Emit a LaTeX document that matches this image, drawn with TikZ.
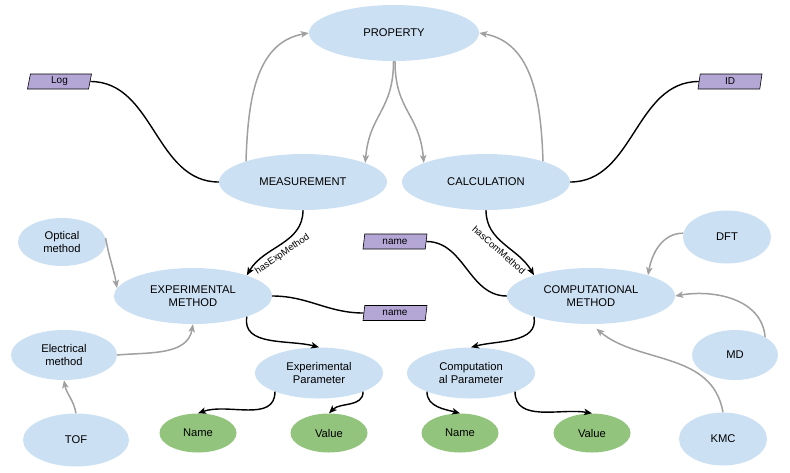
\documentclass[tikz,border=0pt]{standalone}
\usepackage{fontspec}
\setmainfont{Liberation Sans}
\usepackage{xcolor}
\usepackage{tikz}
\usetikzlibrary{positioning, shapes.geometric, arrows.meta}
\definecolor{conceptblue}{RGB}{204,224,243}
\definecolor{valuegreen}{RGB}{147,196,125}
\definecolor{tagpurple}{RGB}{180,167,214}
\definecolor{linkgray}{RGB}{160,160,160}
\tikzset{
  concept/.style={ellipse, fill=conceptblue, inner sep=0pt, align=center, minimum width=168pt, minimum height=56pt},
  method/.style={ellipse, fill=conceptblue, inner sep=0pt, align=center, minimum width=88pt, minimum height=50pt},
  param/.style={ellipse, fill=conceptblue, inner sep=0pt, align=center, minimum width=128pt, minimum height=51pt},
  value/.style={ellipse, fill=valuegreen, inner sep=0pt, align=center, minimum width=77pt, minimum height=39pt},
  tag/.style={trapezium, trapezium left angle=72, trapezium right angle=108, trapezium stretches body, draw=black, line width=0.6pt, fill=tagpurple, inner sep=0pt, minimum width=64pt, minimum height=15pt, font=\fontsize{10}{12}\selectfont},
  arrow/.style={line width=1.4pt, -{Stealth[length=8pt, width=6.5pt, inset=2pt]}},
  link/.style={line width=1.4pt},
  grayarrow/.style={line width=1.5pt, draw=linkgray, -{Stealth[length=8pt, width=6.5pt, inset=2pt]}},
  rel/.style={font=\fontsize{9.5}{11}\selectfont, sloped, below=3pt, inner sep=0.5pt},
}

\begin{document}
\begin{tikzpicture}[x=1pt, y=1pt, font=\fontsize{11.2}{13.5}\selectfont]
        \useasboundingbox (0,0) rectangle (790,-472);

        % Top concepts
        \node[concept, minimum width=170pt] (prop) at (394,-33) {PROPERTY};
        \node[concept] (meas) at (303,-182) {MEASUREMENT};
        \node[concept] (calc) at (486,-182) {CALCULATION};

        % Attribute tags
        \node[tag] (logtag) at (59.5,-81.5) {Log};
        \node[tag] (idtag) at (730,-81.5) {ID};
        \node[tag] (nametagA) at (395,-241.5) {name};
        \node[tag] (nametagB) at (395,-313) {name};

        % Methods
        \node[concept, minimum width=158pt] (expm) at (193,-296) {EXPERIMENTAL\\METHOD};
        \node[concept] (compm) at (591,-296) {COMPUTATIONAL\\METHOD};

        % Method kinds
        \node[method, minimum height=48pt] (optical) at (62,-242) {Optical\\method};
        \node[method, minimum width=106pt] (elec) at (64,-355) {Electrical\\method};
        \node[method, minimum width=106pt, minimum height=53pt] (tof) at (76,-440) {TOF};
        \node[method, minimum height=53pt] (dft) at (727,-237) {DFT};
        \node[method, minimum width=86pt] (md) at (735,-355) {MD};
        \node[method, minimum height=53pt] (kmc) at (723,-439) {KMC};

        % Parameters
        \node[param] (expparam) at (319,-373) {Experimental\\Parameter};
        \node[param] (compparam) at (471,-373) {Computation\\al Parameter};

        % Values
        \node[value] (expname) at (198,-433) {Name};
        \node[value] (expvalue) at (329,-433) {Value};
        \node[value] (compname) at (460,-433) {Name};
        \node[value] (compvalue) at (592,-433) {Value};

        % Property links
        \draw[grayarrow] (meas.160) to[out=88, in=190] (prop.west);
        \draw[grayarrow] (calc.20) to[out=92, in=-10] (prop.east);
        \draw[grayarrow] (prop.-91) to[out=-90, in=85, looseness=1.2] (meas.17);
        \draw[grayarrow] (prop.-88) to[out=-90, in=95, looseness=1.2] (calc.163);

        % Tags
        \draw[link] (logtag.east) to[out=0, in=180] (meas.west);
        \draw[link] (idtag.west) to[out=180, in=0] (calc.east);
        \draw[link] (nametagA.east) to[out=0, in=180] (compm.west);
        \draw[link] (expm.east) to[out=0, in=180] (nametagB.west);

        % Has-method relations
        \draw[arrow] (meas.south) to[out=-90, in=60] node[rel, pos=0.55] {hasExpMethod} (expm.21);
        \draw[arrow] (calc.south) to[out=-90, in=120] node[rel, pos=0.5] {hasComMethod} (compm.160);

        % Parameters
        \draw[arrow] (expm.-21) to[out=-100, in=165] (expparam.north);
        \draw[arrow] (compm.-160) to[out=-80, in=15] (compparam.north);
        \draw[arrow] (expparam.-157) to[out=-90, in=20] (expname.north);
        \draw[arrow] (expparam.-23) to[out=-90, in=45] (expvalue.north);
        \draw[arrow] (compparam.-157) to[out=-90, in=165] (compname.north);
        \draw[arrow] (compparam.-23) to[out=-90, in=170] (compvalue.north);

        % Method kinds
        \draw[grayarrow] (optical.5) to[out=-80, in=100] (expm.174);
        \draw[grayarrow] (elec.east) to[out=5, in=-100] (expm.south);
        \draw[grayarrow] (tof.north) to[out=100, in=-80] (elec.south);
        \draw[grayarrow] (dft.175) to[out=180, in=80] (compm.20);
        \draw[grayarrow] (md.31) to[out=95, in=10] (compm.east);
        \draw[grayarrow, shorten >=7pt] (kmc.north) to[out=100, in=-40] (compm.south);
        \end{tikzpicture}
\end{document}
